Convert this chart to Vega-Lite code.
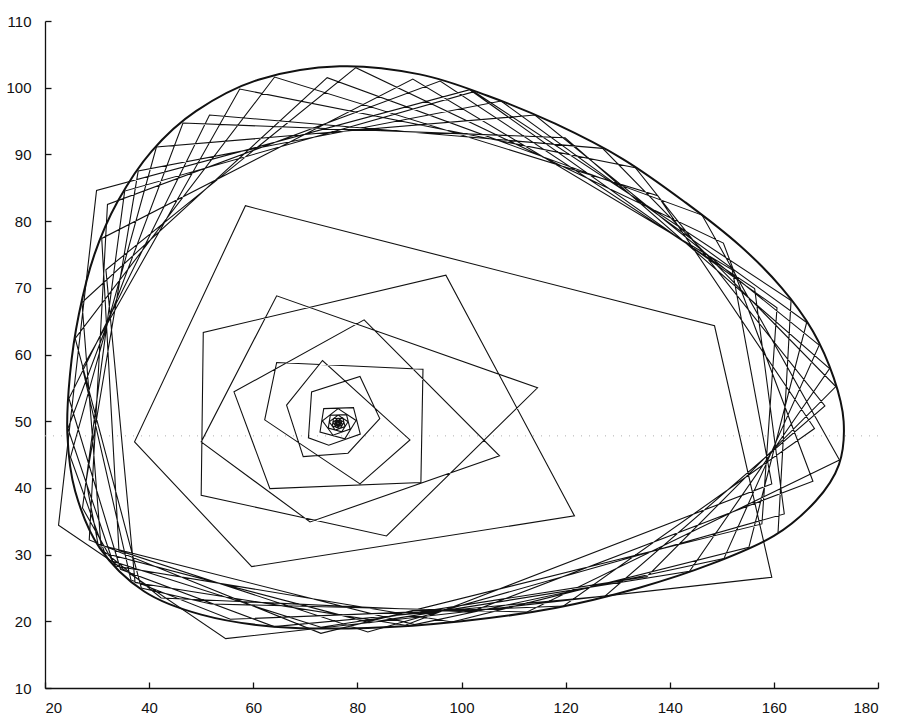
{
  "$schema": "https://vega.github.io/schema/vega-lite/v6.json",
  "width": 833,
  "height": 667,
  "autosize": {"type": "none"},
  "padding": {"left": 45, "top": 21, "right": 36, "bottom": 31},
  "background": "white",
  "config": {
    "view": {"stroke": null},
    "axis": {
      "grid": false,
      "title": null,
      "domainColor": "#111",
      "domainWidth": 1.3,
      "tickColor": "#111",
      "tickWidth": 1.3,
      "tickSize": -6,
      "labelColor": "#111",
      "labelFont": "Liberation Sans",
      "labelFontSize": 15
    }
  },
  "datasets": {
    "scan": [{"y": 47.8}],
    "cycle": [
      {"i": 0, "x": 76.6, "y": 103.2}, {"i": 1, "x": 92.0, "y": 102.0}, {"i": 2, "x": 105.0, "y": 98.8},
      {"i": 3, "x": 118.0, "y": 94.6}, {"i": 4, "x": 131.0, "y": 89.3}, {"i": 5, "x": 143.0, "y": 82.8},
      {"i": 6, "x": 153.5, "y": 76.3}, {"i": 7, "x": 161.5, "y": 70.0}, {"i": 8, "x": 167.5, "y": 63.5},
      {"i": 9, "x": 171.5, "y": 56.5}, {"i": 10, "x": 173.4, "y": 50.0}, {"i": 11, "x": 172.5, "y": 43.5},
      {"i": 12, "x": 168.0, "y": 38.0}, {"i": 13, "x": 160.0, "y": 32.8}, {"i": 14, "x": 148.0, "y": 28.6},
      {"i": 15, "x": 134.0, "y": 25.0}, {"i": 16, "x": 118.0, "y": 22.0}, {"i": 17, "x": 100.0, "y": 20.0},
      {"i": 18, "x": 82.0, "y": 19.0}, {"i": 19, "x": 64.0, "y": 19.2}, {"i": 20, "x": 50.0, "y": 21.0},
      {"i": 21, "x": 39.0, "y": 24.5}, {"i": 22, "x": 30.5, "y": 31.0}, {"i": 23, "x": 25.8, "y": 39.5},
      {"i": 24, "x": 24.3, "y": 48.0}, {"i": 25, "x": 24.8, "y": 57.0}, {"i": 26, "x": 26.5, "y": 66.0},
      {"i": 27, "x": 29.5, "y": 75.0}, {"i": 28, "x": 34.0, "y": 83.0}, {"i": 29, "x": 40.5, "y": 90.5},
      {"i": 30, "x": 49.0, "y": 96.5}, {"i": 31, "x": 61.0, "y": 101.2}
    ],
    "orbit": [
      {"i": 0, "x": 76.30, "y": 49.85}, {"i": 1, "x": 76.53, "y": 49.73}, {"i": 2, "x": 76.39, "y": 49.54},
      {"i": 3, "x": 76.07, "y": 49.61}, {"i": 4, "x": 76.12, "y": 49.84}, {"i": 5, "x": 76.49, "y": 49.85},
      {"i": 6, "x": 76.58, "y": 49.59}, {"i": 7, "x": 76.18, "y": 49.49}, {"i": 8, "x": 75.95, "y": 49.74},
      {"i": 9, "x": 76.30, "y": 49.95}, {"i": 10, "x": 76.70, "y": 49.75}, {"i": 11, "x": 76.45, "y": 49.43},
      {"i": 12, "x": 75.91, "y": 49.55}, {"i": 13, "x": 75.99, "y": 49.95}, {"i": 14, "x": 76.63, "y": 49.96},
      {"i": 15, "x": 76.77, "y": 49.52}, {"i": 16, "x": 76.10, "y": 49.34}, {"i": 17, "x": 75.70, "y": 49.77},
      {"i": 18, "x": 76.30, "y": 50.13}, {"i": 19, "x": 76.97, "y": 49.78}, {"i": 20, "x": 76.55, "y": 49.25},
      {"i": 21, "x": 75.64, "y": 49.45}, {"i": 22, "x": 75.78, "y": 50.11}, {"i": 23, "x": 76.85, "y": 50.14},
      {"i": 24, "x": 77.09, "y": 49.40}, {"i": 25, "x": 75.97, "y": 49.09}, {"i": 26, "x": 75.29, "y": 49.82},
      {"i": 27, "x": 76.30, "y": 50.42}, {"i": 28, "x": 77.43, "y": 49.83}, {"i": 29, "x": 76.72, "y": 48.94},
      {"i": 30, "x": 75.18, "y": 49.27}, {"i": 31, "x": 75.42, "y": 50.40}, {"i": 32, "x": 77.23, "y": 50.44},
      {"i": 33, "x": 77.63, "y": 49.19}, {"i": 34, "x": 75.74, "y": 48.68}, {"i": 35, "x": 74.59, "y": 49.90},
      {"i": 36, "x": 76.30, "y": 50.92}, {"i": 37, "x": 78.21, "y": 49.93}, {"i": 38, "x": 77.00, "y": 48.41},
      {"i": 39, "x": 74.41, "y": 48.97}, {"i": 40, "x": 74.80, "y": 50.89}, {"i": 41, "x": 77.91, "y": 50.98},
      {"i": 42, "x": 78.61, "y": 48.81}, {"i": 43, "x": 75.32, "y": 47.90}, {"i": 44, "x": 73.29, "y": 50.05},
      {"i": 45, "x": 76.30, "y": 51.88}, {"i": 46, "x": 79.76, "y": 50.11}, {"i": 47, "x": 77.58, "y": 47.35},
      {"i": 48, "x": 72.82, "y": 48.36}, {"i": 49, "x": 73.54, "y": 51.89}, {"i": 50, "x": 79.25, "y": 52.04},
      {"i": 51, "x": 80.56, "y": 48.06}, {"i": 52, "x": 74.50, "y": 46.40},
      {"i": 53, "x": 70.6, "y": 47.5}, {"i": 54, "x": 71.2, "y": 54.4}, {"i": 55, "x": 80.5, "y": 56.7},
      {"i": 56, "x": 84.3, "y": 50.4}, {"i": 57, "x": 78.2, "y": 45.2}, {"i": 58, "x": 69.6, "y": 44.7},
      {"i": 59, "x": 66.4, "y": 52.4}, {"i": 60, "x": 73.3, "y": 59.1}, {"i": 61, "x": 90.1, "y": 47.2},
      {"i": 62, "x": 80.5, "y": 40.6}, {"i": 63, "x": 62.2, "y": 50.2}, {"i": 64, "x": 64.5, "y": 58.8},
      {"i": 65, "x": 92.6, "y": 57.8}, {"i": 66, "x": 92.2, "y": 40.8}, {"i": 67, "x": 63.2, "y": 39.9},
      {"i": 68, "x": 56.3, "y": 54.4}, {"i": 69, "x": 81.3, "y": 65.2}, {"i": 70, "x": 107.3, "y": 44.8},
      {"i": 71, "x": 70.9, "y": 34.9}, {"i": 72, "x": 50.0, "y": 46.9}, {"i": 73, "x": 64.5, "y": 68.8},
      {"i": 74, "x": 114.6, "y": 55.0}, {"i": 75, "x": 85.6, "y": 32.8}, {"i": 76, "x": 50.0, "y": 38.9},
      {"i": 77, "x": 50.4, "y": 63.3}, {"i": 78, "x": 97.0, "y": 71.9}, {"i": 79, "x": 121.7, "y": 35.8},
      {"i": 80, "x": 59.7, "y": 28.2}, {"i": 81, "x": 37.2, "y": 46.9}, {"i": 82, "x": 58.5, "y": 82.3},
      {"i": 83, "x": 148.6, "y": 64.3}, {"i": 84, "x": 159.6, "y": 26.6}, {"i": 85, "x": 54.7, "y": 17.4},
      {"i": 86, "x": 22.6, "y": 34.4}, {"i": 87, "x": 29.9, "y": 84.6}, {"i": 88, "x": 101.6, "y": 99.7},
      {"i": 89, "x": 160.6, "y": 67.0}, {"i": 90, "x": 157.7, "y": 34.6}, {"i": 91, "x": 73.0, "y": 18.2},
      {"i": 92, "x": 28.5, "y": 32.2}, {"i": 93, "x": 32.0, "y": 82.5}, {"i": 94, "x": 95.9, "y": 101.0},
      {"i": 95, "x": 156.3, "y": 69.9}, {"i": 96, "x": 162.0, "y": 36.1}, {"i": 97, "x": 82.0, "y": 18.4},
      {"i": 98, "x": 34.2, "y": 30.6}, {"i": 99, "x": 30.9, "y": 77.4}, {"i": 100, "x": 90.65, "y": 101.3},
      {"i": 101, "x": 152.0, "y": 72.7}, {"i": 102, "x": 159.6, "y": 40.6}, {"i": 103, "x": 89.2, "y": 19.4},
      {"i": 104, "x": 37.3, "y": 25.8}, {"i": 105, "x": 31.7, "y": 72.7}, {"i": 106, "x": 79.7, "y": 103.0},
      {"i": 107, "x": 150.3, "y": 76.7}, {"i": 108, "x": 167.5, "y": 41.0}, {"i": 109, "x": 101.7, "y": 21.4},
      {"i": 110, "x": 42.3, "y": 23.5}, {"i": 111, "x": 30.8, "y": 30.8}, {"i": 112, "x": 27.1, "y": 67.8},
      {"i": 113, "x": 74.2, "y": 101.5}, {"i": 114, "x": 146.2, "y": 80.9}, {"i": 115, "x": 172.6, "y": 44.2},
      {"i": 116, "x": 112.6, "y": 21.4}, {"i": 117, "x": 51.9, "y": 22.6}, {"i": 118, "x": 38.5, "y": 25.0},
      {"i": 119, "x": 25.8, "y": 62.4}, {"i": 120, "x": 64.1, "y": 101.6}, {"i": 121, "x": 137.7, "y": 83.8},
      {"i": 122, "x": 167.8, "y": 48.9}, {"i": 123, "x": 119.6, "y": 22.3}, {"i": 124, "x": 55.6, "y": 20.3},
      {"i": 125, "x": 36.5, "y": 26.2}, {"i": 126, "x": 27.2, "y": 58.0}, {"i": 127, "x": 57.4, "y": 99.8},
      {"i": 128, "x": 133.4, "y": 88.0}, {"i": 129, "x": 169.8, "y": 52.3}, {"i": 130, "x": 127.6, "y": 23.8},
      {"i": 131, "x": 64.0, "y": 19.2}, {"i": 132, "x": 34.5, "y": 27.8}, {"i": 133, "x": 24.6, "y": 53.4},
      {"i": 134, "x": 51.6, "y": 95.9}, {"i": 135, "x": 127.1, "y": 90.9}, {"i": 136, "x": 171.9, "y": 55.2},
      {"i": 137, "x": 135.6, "y": 26.7}, {"i": 138, "x": 73.0, "y": 19.1}, {"i": 139, "x": 33.0, "y": 29.0},
      {"i": 140, "x": 24.4, "y": 48.9}, {"i": 141, "x": 46.5, "y": 94.7}, {"i": 142, "x": 119.9, "y": 92.5},
      {"i": 143, "x": 170.7, "y": 57.9}, {"i": 144, "x": 143.8, "y": 27.5}, {"i": 145, "x": 82.3, "y": 19.8},
      {"i": 146, "x": 31.5, "y": 30.2}, {"i": 147, "x": 24.9, "y": 44.6}, {"i": 148, "x": 41.4, "y": 91.1},
      {"i": 149, "x": 114.1, "y": 95.9}, {"i": 150, "x": 168.7, "y": 61.4}, {"i": 151, "x": 150.4, "y": 29.4},
      {"i": 152, "x": 91.0, "y": 19.5}, {"i": 153, "x": 30.2, "y": 31.5}, {"i": 154, "x": 27.9, "y": 41.0},
      {"i": 155, "x": 37.9, "y": 87.5}, {"i": 156, "x": 107.6, "y": 98.0}, {"i": 157, "x": 166.3, "y": 64.8},
      {"i": 158, "x": 155.2, "y": 31.1}, {"i": 159, "x": 98.2, "y": 19.9}, {"i": 160, "x": 33.5, "y": 28.3},
      {"i": 161, "x": 27.2, "y": 37.0}, {"i": 162, "x": 35.3, "y": 84.5}, {"i": 163, "x": 102.4, "y": 99.4},
      {"i": 164, "x": 163.3, "y": 68.1}, {"i": 165, "x": 160.8, "y": 33.3}
    ]
  },
  "layer": [
    {
      "data": {"name": "scan"},
      "mark": {"type": "rule", "stroke": "#b0b0b0", "strokeWidth": 1, "strokeDash": [1, 7]},
      "encoding": {
        "y": {"field": "y", "type": "quantitative", "scale": {"domain": [10, 110], "nice": false, "zero": false}, "axis": {"values": [10, 20, 30, 40, 50, 60, 70, 80, 90, 100, 110], "labelPadding": 20}}
      }
    },
    {
      "data": {"name": "cycle"},
      "mark": {"type": "line", "interpolate": "cardinal-closed", "stroke": "#111", "strokeWidth": 2},
      "encoding": {
        "x": {"field": "x", "type": "quantitative", "scale": {"domain": [20, 180], "nice": false, "zero": false}, "axis": {"values": [20, 40, 60, 80, 100, 120, 140, 160, 180], "labelPadding": 18}},
        "y": {"field": "y", "type": "quantitative"},
        "order": {"field": "i", "type": "quantitative"}
      }
    },
    {
      "data": {"name": "orbit"},
      "mark": {"type": "line", "stroke": "#111", "strokeWidth": 1.1},
      "encoding": {
        "x": {"field": "x", "type": "quantitative"},
        "y": {"field": "y", "type": "quantitative"},
        "order": {"field": "i", "type": "quantitative"}
      }
    }
  ]
}
